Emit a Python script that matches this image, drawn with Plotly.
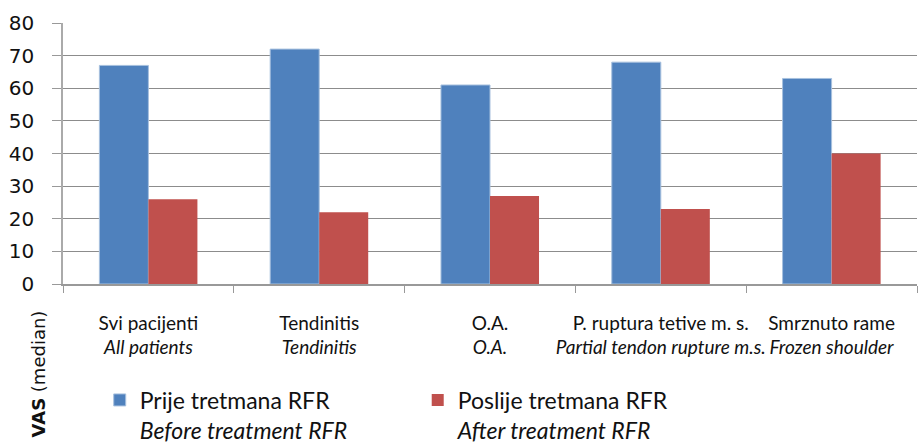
import plotly.graph_objects as go

categories = ["Svi pacijenti", "Tendinitis", "O.A.", "P. ruptura tetive m. s.", "Smrznuto rame"]
categories_en = ["All patients", "Tendinitis", "O.A.", "Partial tendon rupture m.s.", "Frozen shoulder"]
before = [67, 72, 61, 68, 63]
after = [26, 22, 27, 23, 40]
series_names = ["Prije tretmana RFR", "Poslije tretmana RFR"]
series_names_en = ["Before treatment RFR", "After treatment RFR"]
y_ticks = [0, 10, 20, 30, 40, 50, 60, 70, 80]

ticktext = [f"{a}<br><i>{b}</i>" for a, b in zip(categories, categories_en)]
cal = "Lato, Liberation Sans, sans-serif"

fig = go.Figure()
fig.add_trace(go.Bar(x=categories, y=before, name=f"{series_names[0]}<br><i>{series_names_en[0]}</i>",
                     marker=dict(color="#4F81BD", line=dict(color="#A7C0DE", width=1))))
fig.add_trace(go.Bar(x=categories, y=after, name=f"{series_names[1]}<br><i>{series_names_en[1]}</i>",
                     marker=dict(color="#C0504D", line=dict(color="#C0504D", width=0))))

fig.update_layout(
    width=922, height=444,
    margin=dict(l=63, r=5, t=23, b=160, autoexpand=False),
    plot_bgcolor="white", paper_bgcolor="white",
    barmode="group", bargap=0.426, bargroupgap=0,
    showlegend=True,
    legend=dict(orientation="h", x=0.043, y=-0.362, xanchor="left", yanchor="top",
                font=dict(family=cal, size=23, color="#111"),
                entrywidth=273, entrywidthmode="pixels", valign="top",
                itemwidth=30, traceorder="normal"),
    font=dict(family=cal, color="#111"),
)
fig.update_xaxes(
    tickmode="array", tickvals=categories, ticktext=ticktext, tickangle=0,
    tickson="boundaries", ticks="outside", ticklen=7, tickcolor="#999",
    showline=True, linecolor="#999", linewidth=1.5,
    tickfont=dict(family=cal, size=19, color="#111"),
    ticklabelstandoff=21, automargin=False,
)
fig.update_yaxes(
    range=[0, 80], tickvals=y_ticks,
    showgrid=True, gridcolor="#8c8c8c", gridwidth=1,
    showline=True, linecolor="#aaa", linewidth=1.5,
    ticks="outside", ticklen=9, tickcolor="#999",
    tickfont=dict(family="DejaVu Sans, Verdana, sans-serif", size=20, color="#111"),
    ticklabelstandoff=14, zeroline=False, automargin=False,
)
fig.add_annotation(
    x=0, y=0, xref="paper", yref="paper",
    xshift=-25, yshift=-156, xanchor="center", yanchor="bottom",
    text="<b>VAS</b> (median)", textangle=-90, showarrow=False,
    font=dict(family="DejaVu Sans, Verdana, sans-serif", size=18, color="#111"),
)
fig.write_html("out.html", config={"displayModeBar": False},
               post_script="document.body.style.margin='0';document.body.style.overflow='hidden';")
